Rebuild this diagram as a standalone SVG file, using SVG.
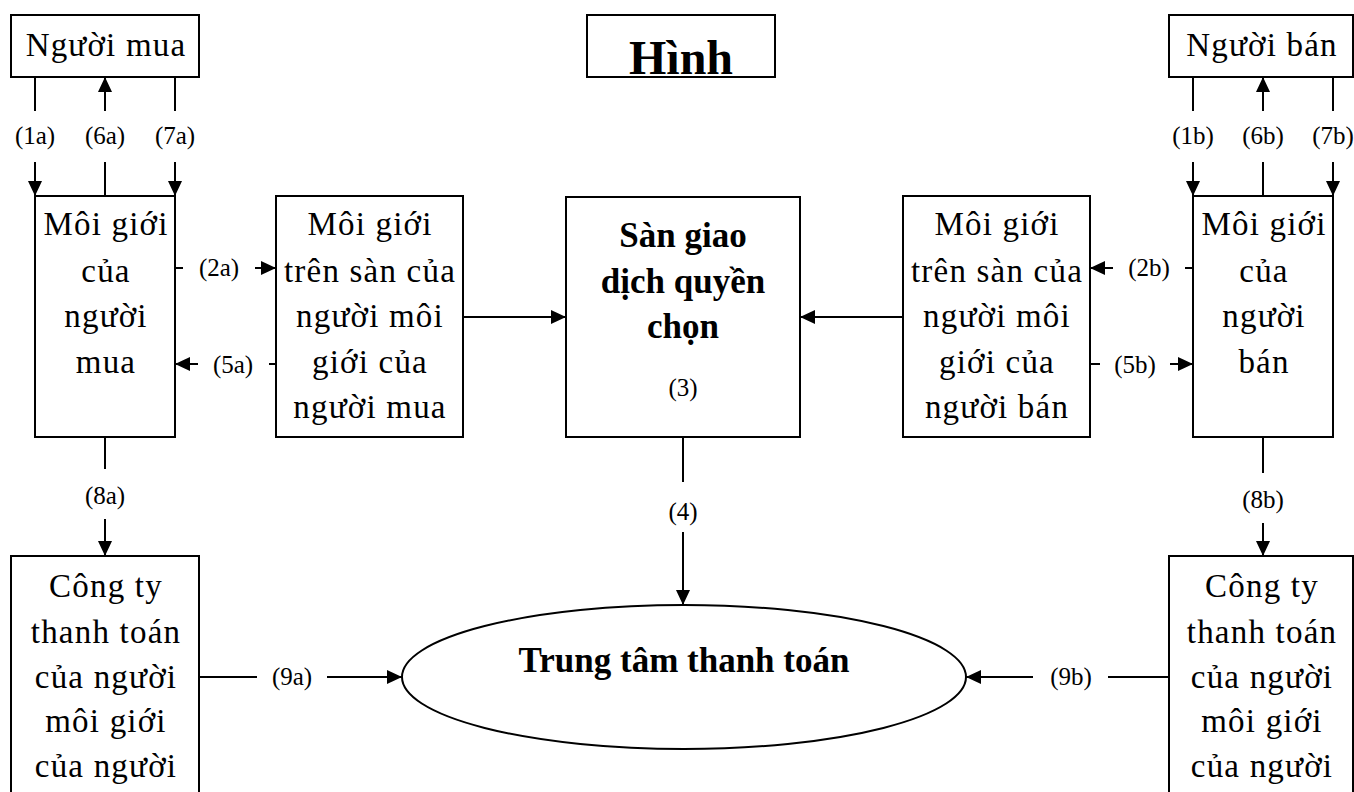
<svg xmlns="http://www.w3.org/2000/svg" width="1354" height="792" viewBox="0 0 1354 792">
<style>
.box{fill:#fff;stroke:#000;stroke-width:2}
.ln{fill:none;stroke:#000;stroke-width:2}
.t{font-family:"Liberation Serif","Times New Roman",serif;font-size:33px;letter-spacing:1.2px;text-anchor:middle;fill:#000}
.b{font-family:"Liberation Serif","Times New Roman",serif;font-size:35px;font-weight:bold;text-anchor:middle;fill:#000}
.l{font-family:"Liberation Serif","Times New Roman",serif;font-size:25px;text-anchor:middle;fill:#000}
</style>
<defs>
<marker id="ah" viewBox="0 0 15 14" refX="15" refY="7" markerWidth="15" markerHeight="14" markerUnits="userSpaceOnUse" orient="auto">
<path d="M0,0 L15,7 L0,14 z" fill="#000"/>
</marker>
</defs>
<rect width="1354" height="792" fill="#fff"/>

<g id="connectors">
<path class="ln" d="M35,77 V111"/><path class="ln" d="M35,162 V196" marker-end="url(#ah)"/>
<path class="ln" d="M105,196 V162"/><path class="ln" d="M105,111 V77" marker-end="url(#ah)"/>
<path class="ln" d="M175,77 V111"/><path class="ln" d="M175,162 V196" marker-end="url(#ah)"/>
<path class="ln" d="M1193,77 V111"/><path class="ln" d="M1193,162 V196" marker-end="url(#ah)"/>
<path class="ln" d="M1263,196 V162"/><path class="ln" d="M1263,111 V77" marker-end="url(#ah)"/>
<path class="ln" d="M1333,77 V111"/><path class="ln" d="M1333,162 V196" marker-end="url(#ah)"/>
<path class="ln" d="M175,268 H183"/><path class="ln" d="M255,268 H276" marker-end="url(#ah)"/>
<path class="ln" d="M198,364 H175" marker-end="url(#ah)"/><path class="ln" d="M269,364 H276"/>
<path class="ln" d="M1113,268 H1090" marker-end="url(#ah)"/><path class="ln" d="M1185,268 H1193"/>
<path class="ln" d="M1090,364 H1100"/><path class="ln" d="M1170,364 H1193" marker-end="url(#ah)"/>
<path class="ln" d="M463,317 H566" marker-end="url(#ah)"/>
<path class="ln" d="M903,317 H800" marker-end="url(#ah)"/>
<path class="ln" d="M105,437 V469"/><path class="ln" d="M105,519 V556" marker-end="url(#ah)"/>
<path class="ln" d="M683,437 V482"/><path class="ln" d="M683,532 V605" marker-end="url(#ah)"/>
<path class="ln" d="M1263,437 V473"/><path class="ln" d="M1263,523 V556" marker-end="url(#ah)"/>
<path class="ln" d="M199,677 H257"/><path class="ln" d="M327,677 H402" marker-end="url(#ah)"/>
<path class="ln" d="M1169,677 H1108"/><path class="ln" d="M1033,677 H966" marker-end="url(#ah)"/>
<text class="l" x="35" y="144">(1a)</text>
<text class="l" x="105" y="144">(6a)</text>
<text class="l" x="175" y="144">(7a)</text>
<text class="l" x="1193" y="144">(1b)</text>
<text class="l" x="1263" y="144">(6b)</text>
<text class="l" x="1333" y="144">(7b)</text>
<text class="l" x="219" y="276">(2a)</text>
<text class="l" x="233" y="373">(5a)</text>
<text class="l" x="1149" y="276">(2b)</text>
<text class="l" x="1135" y="373">(5b)</text>
<text class="l" x="105" y="504">(8a)</text>
<text class="l" x="683" y="520">(4)</text>
<text class="l" x="1263" y="508">(8b)</text>
<text class="l" x="292" y="685">(9a)</text>
<text class="l" x="1071" y="685">(9b)</text>
</g>

<g id="nguoi-mua">
<rect class="box" x="11" y="15" width="188" height="62"/>
<text class="t" x="106" y="56">Người mua</text>
</g>
<g id="hinh">
<rect class="box" x="587" y="15" width="188" height="62"/>
<text class="b" x="681" y="74" style="font-size:48px">Hình</text>
</g>
<g id="nguoi-ban">
<rect class="box" x="1169" y="15" width="184" height="62"/>
<text class="t" x="1262" y="56">Người bán</text>
</g>
<g id="moi-gioi-mua">
<rect class="box" x="35" y="196" width="140" height="241"/>
<text class="t" x="106" y="235">Môi giới</text>
<text class="t" x="106" y="282">của</text>
<text class="t" x="106" y="327">người</text>
<text class="t" x="106" y="373">mua</text>
</g>
<g id="moi-gioi-san-mua">
<rect class="box" x="276" y="196" width="187" height="241"/>
<text class="t" x="370" y="235">Môi giới</text>
<text class="t" x="370" y="282">trên sàn của</text>
<text class="t" x="370" y="327">người môi</text>
<text class="t" x="370" y="373">giới của</text>
<text class="t" x="370" y="418">người mua</text>
</g>
<g id="san-giao-dich">
<rect class="box" x="566" y="197" width="234" height="240"/>
<text class="b" x="683" y="247">Sàn giao</text>
<text class="b" x="683" y="293">dịch quyền</text>
<text class="b" x="683" y="338">chọn</text>
<text class="l" x="683" y="396">(3)</text>
</g>
<g id="moi-gioi-san-ban">
<rect class="box" x="903" y="196" width="187" height="241"/>
<text class="t" x="997" y="235">Môi giới</text>
<text class="t" x="997" y="282">trên sàn của</text>
<text class="t" x="997" y="327">người môi</text>
<text class="t" x="997" y="373">giới của</text>
<text class="t" x="997" y="418">người bán</text>
</g>
<g id="moi-gioi-ban">
<rect class="box" x="1193" y="196" width="140" height="241"/>
<text class="t" x="1264" y="235">Môi giới</text>
<text class="t" x="1264" y="282">của</text>
<text class="t" x="1264" y="327">người</text>
<text class="t" x="1264" y="373">bán</text>
</g>
<g id="cong-ty-mua">
<rect class="box" x="11" y="556" width="188" height="250"/>
<text class="t" x="106" y="597">Công ty</text>
<text class="t" x="106" y="643">thanh toán</text>
<text class="t" x="106" y="688">của người</text>
<text class="t" x="106" y="732">môi giới</text>
<text class="t" x="106" y="777">của người</text>
</g>
<g id="trung-tam">
<ellipse class="box" cx="684" cy="677" rx="282" ry="72"/>
<text class="b" x="684" y="672">Trung tâm thanh toán</text>
</g>
<g id="cong-ty-ban">
<rect class="box" x="1169" y="556" width="184" height="250"/>
<text class="t" x="1262" y="597">Công ty</text>
<text class="t" x="1262" y="643">thanh toán</text>
<text class="t" x="1262" y="688">của người</text>
<text class="t" x="1262" y="732">môi giới</text>
<text class="t" x="1262" y="777">của người</text>
</g>
</svg>
